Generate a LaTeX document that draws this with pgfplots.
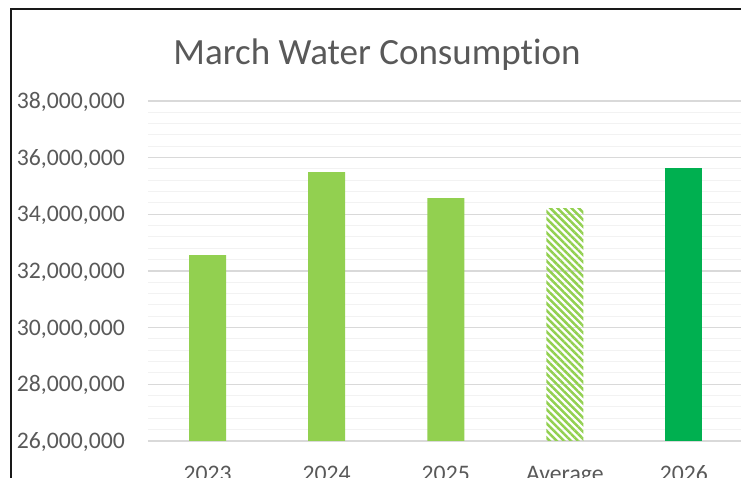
\documentclass[border=0pt]{standalone}
\usepackage{pgfplots}
\pgfplotsset{compat=1.18}
\usepackage{fontspec}
\setmainfont{Carlito}[Ligatures=NoCommon]
\usetikzlibrary{patterns.meta}

\definecolor{lightgreen}{HTML}{92D050}
\definecolor{darkgreen}{HTML}{00B050}
\definecolor{txtgray}{HTML}{595959}
\definecolor{majgrid}{HTML}{D9D9D9}
\definecolor{mingrid}{HTML}{F2F2F2}

\begin{document}
\begin{tikzpicture}
\useasboundingbox (-148pt,-37pt) rectangle (593pt,441pt);
\clip (-148pt,-37pt) rectangle (593pt,441pt);
\begin{axis}[
  scale only axis,
  width=595.5pt,
  height=340pt,
  xmin=-0.5, xmax=4.5,
  ymin=26000000, ymax=38000000,
  ybar,
  bar width=37pt,
  xtick={0,1,2,3,4},
  xticklabels={2023,2024,2025,Average,2026},
  ytick={26000000,28000000,30000000,32000000,34000000,36000000,38000000},
  minor y tick num=4,
  scaled y ticks=false,
  ymajorgrids, yminorgrids,
  major grid style={draw=majgrid, line width=1.3pt},
  minor grid style={draw=mingrid, line width=1pt},
  axis line style={draw=none},
  major tick length=0pt, minor tick length=0pt,
  tick label style={font=\fontsize{23.7}{28}\selectfont, text=txtgray, inner sep=0pt},
  yticklabel style={anchor=base east, xshift=-23pt, yshift=-7.5pt,
    /pgf/number format/.cd, fixed, precision=0, 1000 sep={,}, assume math mode=true},
  xticklabel style={anchor=base, yshift=-41pt},
]
% the three past years
\addplot[fill=lightgreen, draw=none, bar shift=0pt]
  coordinates {(0,32560000) (1,35490000) (2,34570000)};
% average of 2023-2025
\addplot[pattern={Lines[angle=-45, distance=5pt, line width=2.5pt]}, pattern color=lightgreen, draw=none, bar shift=0pt]
  coordinates {(3,34207000)};
% current year
\addplot[fill=darkgreen, draw=none, bar shift=0pt]
  coordinates {(4,35630000)};
\end{axis}
\node[anchor=base, text=txtgray, font=\fontsize{37}{44}\selectfont] at (229pt,376pt) {March Water Consumption};
\draw[line width=2pt, black!90] (-137pt,-40pt) -- (-137pt,432pt) -- (600pt,432pt);
\end{tikzpicture}
\end{document}
